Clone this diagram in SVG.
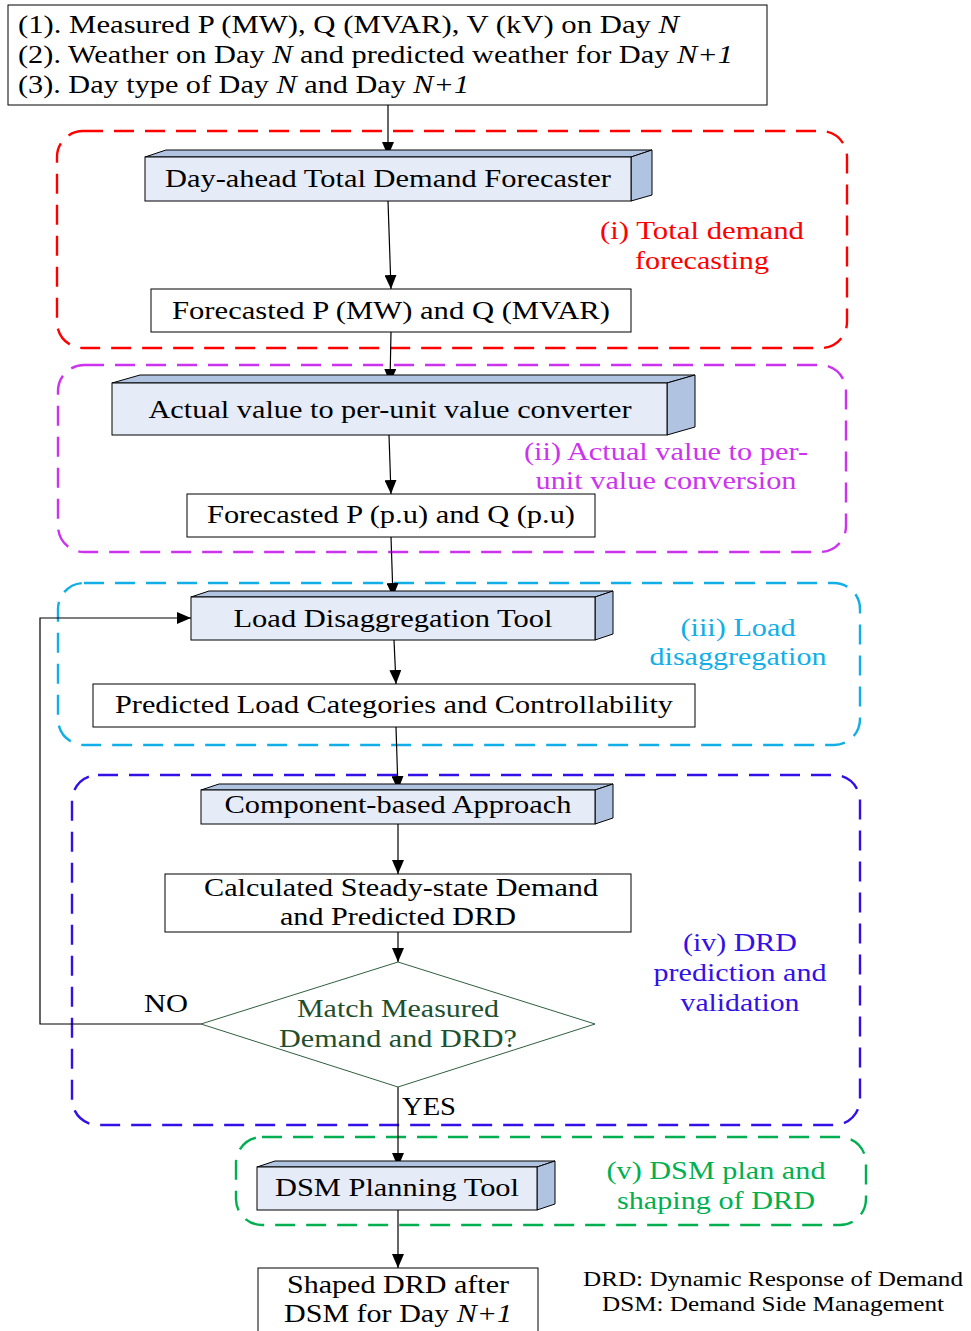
<svg xmlns="http://www.w3.org/2000/svg" width="971" height="1331" viewBox="0 0 971 1331">
  <defs>
    <marker id="arr" viewBox="0 0 14 12" refX="14" refY="6" markerWidth="14" markerHeight="12" markerUnits="userSpaceOnUse" orient="auto">
      <path d="M0,0 L14,6 L0,12 z" fill="#000"/>
    </marker>
    <style>
      text { font-family: "Liberation Serif", "Times New Roman", serif; font-size: 25px; fill: #000; }
      .it { font-style: italic; }
      .box { fill: #fff; stroke: #000; stroke-width: 1; }
      .front { fill: #e6ecf7; stroke: #000; stroke-width: 1; }
      .face { fill: #b0c4e2; stroke: #000; stroke-width: 1; }
      .grp { fill: none; stroke-width: 2.4; stroke-dasharray: 20 11; }
      .conn { fill: none; stroke: #000; stroke-width: 1.2; }
      .arrow { marker-end: url(#arr); }
      .legend { font-size: 21px; }
    </style>
  </defs>

  <!-- dashed stage frames -->
  <g id="stages">
    <rect id="stage-i" class="grp" x="57" y="131" width="790" height="217" rx="26" stroke="#ff0000"/>
    <rect id="stage-ii" class="grp" x="58" y="365" width="788" height="187" rx="26" stroke="#cc33ee"/>
    <rect id="stage-iii" class="grp" x="58" y="583" width="802" height="162" rx="26" stroke="#12aee8"/>
    <rect id="stage-iv" class="grp" x="72" y="775" width="788" height="350" rx="26" stroke="#3311e6"/>
    <rect id="stage-v" class="grp" x="236" y="1137" width="630" height="88" rx="26" stroke="#00b050"/>
  </g>

  <!-- stage captions -->
  <g id="captions">
    <text x="702" y="239" text-anchor="middle" style="fill:#ff0000" textLength="204" lengthAdjust="spacingAndGlyphs">(i) Total demand</text>
    <text x="702" y="269" text-anchor="middle" style="fill:#ff0000" textLength="134" lengthAdjust="spacingAndGlyphs">forecasting</text>
    <text x="666" y="460" text-anchor="middle" style="fill:#cc33ee" textLength="284" lengthAdjust="spacingAndGlyphs">(ii) Actual value to per-</text>
    <text x="666" y="489" text-anchor="middle" style="fill:#cc33ee" textLength="261" lengthAdjust="spacingAndGlyphs">unit value conversion</text>
    <text x="738" y="636" text-anchor="middle" style="fill:#12aee8" textLength="115" lengthAdjust="spacingAndGlyphs">(iii) Load</text>
    <text x="738" y="665" text-anchor="middle" style="fill:#12aee8" textLength="177" lengthAdjust="spacingAndGlyphs">disaggregation</text>
    <text x="740" y="951" text-anchor="middle" style="fill:#3311e6" textLength="114" lengthAdjust="spacingAndGlyphs">(iv) DRD</text>
    <text x="740" y="981" text-anchor="middle" style="fill:#3311e6" textLength="173" lengthAdjust="spacingAndGlyphs">prediction and</text>
    <text x="740" y="1011" text-anchor="middle" style="fill:#3311e6" textLength="119" lengthAdjust="spacingAndGlyphs">validation</text>
    <text x="716" y="1179" text-anchor="middle" style="fill:#00b050" textLength="219" lengthAdjust="spacingAndGlyphs">(v) DSM plan and</text>
    <text x="716" y="1209" text-anchor="middle" style="fill:#00b050" textLength="198" lengthAdjust="spacingAndGlyphs">shaping of DRD</text>
  </g>

  <!-- connectors -->
  <g id="connectors">
    <line class="conn arrow" x1="388" y1="105" x2="388" y2="156"/>
    <line class="conn arrow" x1="388" y1="201" x2="391" y2="289"/>
    <line class="conn arrow" x1="391" y1="332" x2="390" y2="383"/>
    <line class="conn arrow" x1="389" y1="435" x2="391" y2="494"/>
    <line class="conn arrow" x1="391" y1="537" x2="393" y2="597"/>
    <line class="conn arrow" x1="394" y1="640" x2="396" y2="684"/>
    <line class="conn arrow" x1="396" y1="727" x2="398" y2="790"/>
    <line class="conn arrow" x1="398" y1="824" x2="398" y2="874"/>
    <line class="conn arrow" x1="398" y1="932" x2="398" y2="962"/>
    <polyline class="conn arrow" points="201,1024 40,1024 40,618 191,618"/>
    <line class="conn arrow" x1="398" y1="1087" x2="398" y2="1167"/>
    <line class="conn arrow" x1="398" y1="1210" x2="398" y2="1268"/>
    <text x="144" y="1012" textLength="44" lengthAdjust="spacingAndGlyphs">NO</text>
    <text x="402" y="1115" textLength="54" lengthAdjust="spacingAndGlyphs">YES</text>
  </g>

  <!-- input data -->
  <g id="inputs">
    <rect class="box" x="8" y="5" width="759" height="100"/>
    <text x="18" y="33" textLength="661" lengthAdjust="spacingAndGlyphs">(1). Measured P (MW), Q (MVAR), V (kV) on Day <tspan class="it">N</tspan></text>
    <text x="18" y="63" textLength="715" lengthAdjust="spacingAndGlyphs">(2). Weather on Day <tspan class="it">N</tspan> and predicted weather for Day <tspan class="it">N+1</tspan></text>
    <text x="18" y="93" textLength="451" lengthAdjust="spacingAndGlyphs">(3). Day type of Day <tspan class="it">N</tspan> and Day <tspan class="it">N+1</tspan></text>
  </g>

  <!-- (i) total demand forecasting -->
  <g id="forecaster">
    <polygon class="face" points="145,157 166,150 652,150 631,157"/>
    <polygon class="face" points="631,157 652,150 652,195 631,201"/>
    <rect class="front" x="145" y="157" width="486" height="44"/>
    <text x="388" y="187" text-anchor="middle" textLength="446" lengthAdjust="spacingAndGlyphs">Day-ahead Total Demand Forecaster</text>
  </g>
  <g id="forecast-mw">
    <rect class="box" x="151" y="289" width="480" height="43"/>
    <text x="391" y="319" text-anchor="middle" textLength="438" lengthAdjust="spacingAndGlyphs">Forecasted P (MW) and Q (MVAR)</text>
  </g>

  <!-- (ii) per-unit conversion -->
  <g id="pu-converter">
    <polygon class="face" points="112,383 140,375 695,375 667,383"/>
    <polygon class="face" points="667,383 695,375 695,427 667,435"/>
    <rect class="front" x="112" y="383" width="555" height="52"/>
    <text x="390" y="418" text-anchor="middle" textLength="483" lengthAdjust="spacingAndGlyphs">Actual value to per-unit value converter</text>
  </g>
  <g id="forecast-pu">
    <rect class="box" x="187" y="494" width="408" height="43"/>
    <text x="391" y="523" text-anchor="middle" textLength="368" lengthAdjust="spacingAndGlyphs">Forecasted P (p.u) and Q (p.u)</text>
  </g>

  <!-- (iii) load disaggregation -->
  <g id="disaggregation">
    <polygon class="face" points="191,597 209,591 613,591 595,597"/>
    <polygon class="face" points="595,597 613,591 613,634 595,640"/>
    <rect class="front" x="191" y="597" width="404" height="43"/>
    <text x="393" y="627" text-anchor="middle" textLength="319" lengthAdjust="spacingAndGlyphs">Load Disaggregation Tool</text>
  </g>
  <g id="load-categories">
    <rect class="box" x="93" y="684" width="602" height="43"/>
    <text x="394" y="713" text-anchor="middle" textLength="558" lengthAdjust="spacingAndGlyphs">Predicted Load Categories and Controllability</text>
  </g>

  <!-- (iv) DRD prediction and validation -->
  <g id="component-approach">
    <polygon class="face" points="201,790 219,784 613,784 595,790"/>
    <polygon class="face" points="595,790 613,784 613,818 595,824"/>
    <rect class="front" x="201" y="790" width="394" height="34"/>
    <text x="398" y="813" text-anchor="middle" textLength="347" lengthAdjust="spacingAndGlyphs">Component-based Approach</text>
  </g>
  <g id="steady-state">
    <rect class="box" x="165" y="874" width="466" height="58"/>
    <text x="401" y="896" text-anchor="middle" textLength="394" lengthAdjust="spacingAndGlyphs">Calculated Steady-state Demand</text>
    <text x="398" y="925" text-anchor="middle" textLength="236" lengthAdjust="spacingAndGlyphs">and Predicted DRD</text>
  </g>
  <g id="match-check">
    <polygon points="398,962 595,1024 398,1087 201,1024" fill="#fff" stroke="#2f5f3f" stroke-width="1"/>
    <text x="398" y="1017" text-anchor="middle" style="fill:#1e5030" textLength="202" lengthAdjust="spacingAndGlyphs">Match Measured</text>
    <text x="398" y="1047" text-anchor="middle" style="fill:#1e5030" textLength="238" lengthAdjust="spacingAndGlyphs">Demand and DRD?</text>
  </g>

  <!-- (v) DSM planning -->
  <g id="dsm-tool">
    <polygon class="face" points="257,1167 275,1161 555,1161 537,1167"/>
    <polygon class="face" points="537,1167 555,1161 555,1204 537,1210"/>
    <rect class="front" x="257" y="1167" width="280" height="43"/>
    <text x="397" y="1196" text-anchor="middle" textLength="244" lengthAdjust="spacingAndGlyphs">DSM Planning Tool</text>
  </g>
  <g id="shaped-drd">
    <rect class="box" x="258" y="1268" width="280" height="70"/>
    <text x="398" y="1293" text-anchor="middle" textLength="222" lengthAdjust="spacingAndGlyphs">Shaped DRD after</text>
    <text x="398" y="1322" text-anchor="middle" textLength="228" lengthAdjust="spacingAndGlyphs">DSM for Day <tspan class="it">N+1</tspan></text>
  </g>

  <!-- abbreviations -->
  <g id="legend">
    <text class="legend" x="773" y="1286" text-anchor="middle" textLength="380" lengthAdjust="spacingAndGlyphs">DRD: Dynamic Response of Demand</text>
    <text class="legend" x="773" y="1311" text-anchor="middle" textLength="342" lengthAdjust="spacingAndGlyphs">DSM: Demand Side Management</text>
  </g>
</svg>
